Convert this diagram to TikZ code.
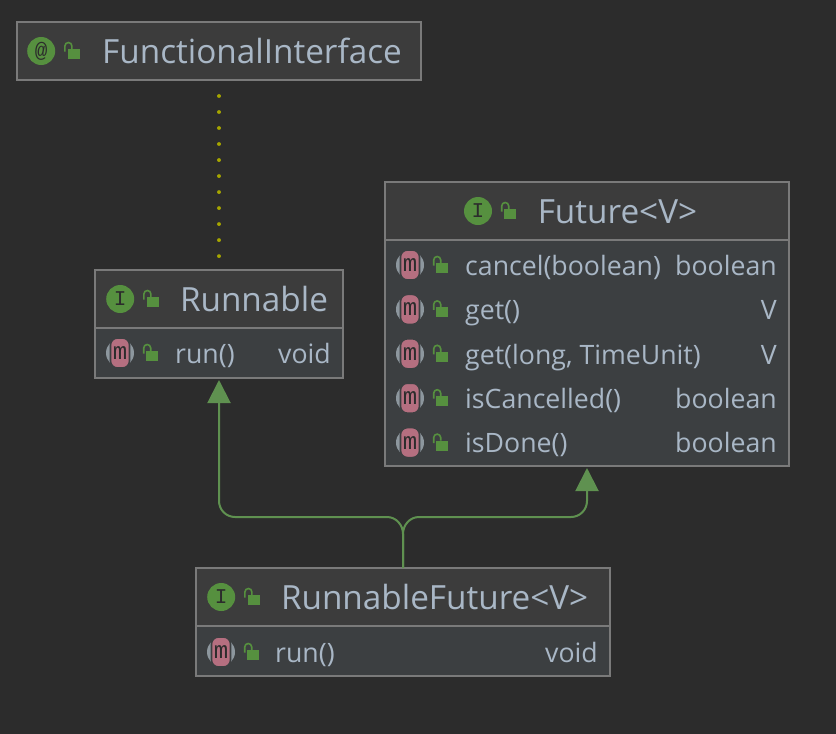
\documentclass[tikz,border=0pt]{standalone}
\usepackage{fontspec}
\setmainfont{Open Sans}
\newfontfamily\iconfont{Liberation Mono}
\usetikzlibrary{arrows.meta, positioning}
\definecolor{canvasgray}{HTML}{2C2C2C}
\definecolor{headgray}{HTML}{3C3C3C}
\definecolor{bodygray}{HTML}{3C3F41}
\definecolor{edgegray}{HTML}{7A7A7A}
\definecolor{labelblue}{HTML}{A9B7C6}
\definecolor{leafgreen}{HTML}{56903F}
\definecolor{linegreen}{HTML}{5F9150}
\definecolor{methodpink}{HTML}{B56F80}
\definecolor{ringgray}{HTML}{8D979E}
\definecolor{dotolive}{HTML}{A6A600}
\tikzstyle{head} = [rectangle, draw=edgegray, line width=2pt, fill=headgray, minimum height=58pt, inner sep=0pt, outer sep=0pt]
\tikzstyle{bodybox} = [rectangle, draw=edgegray, line width=2pt, fill=bodygray, inner sep=0pt, outer sep=0pt, below=0pt of #1]
\tikzstyle{title} = [text=labelblue, font=\fontsize{33.3}{33.3}\selectfont, inner sep=0pt, text height=32pt, text depth=6.6pt]
\tikzstyle{member} = [text=labelblue, font=\fontsize{26.7}{26.7}\selectfont, inner sep=0pt, text height=26pt, text depth=5.6pt]
\tikzstyle{kind} = [member, anchor=east, xshift=-12pt]
\tikzstyle{typeicon} = [circle, fill=leafgreen, minimum size=28pt, inner sep=0pt, text=canvasgray, font=\iconfont\fontsize{21}{21}\selectfont]
\tikzstyle{methodicon} = [circle, fill=ringgray, minimum size=28pt, inner sep=0pt, label={[rectangle, rounded corners=7pt, draw=bodygray, line width=1.6pt, fill=methodpink, minimum width=19pt, minimum height=30pt, inner sep=0pt, text=canvasgray, font=\iconfont\fontsize{24}{24}\selectfont]center:m}]
\tikzstyle{lock} = [rectangle, fill=leafgreen, minimum width=12pt, minimum height=10pt, inner sep=0pt, append after command={\pgfextra{\let\locknode\tikzlastnode \draw [leafgreen, line width=1.6pt] ([xshift=-2.5pt,yshift=2.5pt]\locknode.west) -- ++(0,-5.5) arc (180:0:3.5pt) -- ++(0,3);}}]
\tikzstyle{dots} = [dotolive, line width=3.8pt, line cap=round, dash pattern=on 0.01pt off 16pt, shorten <=16pt, shorten >=8pt]
\tikzstyle{extends} = [linegreen, line width=2pt, -{Triangle[length=23pt,width=23pt]}, shorten >=2pt]

\begin{document}
\begin{tikzpicture}[x=1pt, y=-1pt]
\fill [canvasgray] (0,0) rectangle (836,734);

% FunctionalInterface
\node (fihead) [head, minimum width=404pt] at (219,51) {};
\node (fiicon) [typeicon, right=10pt of fihead.west] {@};
\node (filock) [lock, right=12pt of fiicon, yshift=-3pt] {};
\node (fititle) [title, anchor=west] at (102,51) {FunctionalInterface};

% Runnable
\node (rhead) [head, minimum width=248pt] at (219,299) {};
\node (rbody) [bodybox=rhead.south, minimum width=248pt, minimum height=50pt] {};
\node (ricon) [typeicon, right=11pt of rhead.west] {I};
\node (rlock) [lock, right=12pt of ricon, yshift=-3pt] {};
\node (rtitle) [title, right=21pt of rlock, yshift=3pt] {Runnable};
\node (rrunicon) [methodicon] at (120,353) {};
\node (rrunlock) [lock, right=12pt of rrunicon, yshift=-3pt] {};
\node (rruntext) [member, anchor=west] at (175,353) {run()};
\node (rruntype) [kind] at (rbody.east |- rrunicon) {void};

% Future
\node (fhead) [head, minimum width=404pt] at (587,211) {};
\node (fbody) [bodybox=fhead.south, minimum width=404pt, minimum height=226pt] {};
\node (ficon) [typeicon] at (478,211) {I};
\node (flock) [lock, right=12pt of ficon, yshift=-3pt] {};
\node (ftitle) [title, right=21pt of flock, yshift=3pt] {Future<V>};
\node (cancelicon) [methodicon] at (410,265) {};
\node (geticon) [methodicon, below=16pt of cancelicon] {};
\node (timedicon) [methodicon, below=16pt of geticon] {};
\node (cancelledicon) [methodicon, below=16pt of timedicon] {};
\node (doneicon) [methodicon, below=16pt of cancelledicon] {};
\node (cancellock) [lock, right=12pt of cancelicon, yshift=-3pt] {};
\node (getlock) [lock, right=12pt of geticon, yshift=-3pt] {};
\node (timedlock) [lock, right=12pt of timedicon, yshift=-3pt] {};
\node (cancelledlock) [lock, right=12pt of cancelledicon, yshift=-3pt] {};
\node (donelock) [lock, right=12pt of doneicon, yshift=-3pt] {};
\node (canceltext) [member, anchor=west] at (465,265) {cancel(boolean)};
\node (gettext) [member, anchor=west] at (canceltext.west |- geticon) {get()};
\node (timedtext) [member, anchor=west] at (canceltext.west |- timedicon) {get(long, TimeUnit)};
\node (cancelledtext) [member, anchor=west] at (canceltext.west |- cancelledicon) {isCancelled()};
\node (donetext) [member, anchor=west] at (canceltext.west |- doneicon) {isDone()};
\node (canceltype) [kind] at (fbody.east |- cancelicon) {boolean};
\node (gettype) [kind] at (fbody.east |- geticon) {V};
\node (timedtype) [kind] at (fbody.east |- timedicon) {V};
\node (cancelledtype) [kind] at (fbody.east |- cancelledicon) {boolean};
\node (donetype) [kind] at (fbody.east |- doneicon) {boolean};

% RunnableFuture
\node (rfhead) [head, minimum width=414pt] at (403,597) {};
\node (rfbody) [bodybox=rfhead.south, minimum width=414pt, minimum height=50pt] {};
\node (rficon) [typeicon, right=11pt of rfhead.west] {I};
\node (rflock) [lock, right=12pt of rficon, yshift=-3pt] {};
\node (rftitle) [title, right=21pt of rflock, yshift=3pt] {RunnableFuture<V>};
\node (rfrunicon) [methodicon] at (221,652) {};
\node (rfrunlock) [lock, right=12pt of rfrunicon, yshift=-3pt] {};
\node (rfruntext) [member, anchor=west] at (275,652) {run()};
\node (rfruntype) [kind] at (rfbody.east |- rfrunicon) {void};

\coordinate (split) at (403,534);
\coordinate (leftbend) at (387,517);
\coordinate (rightbend) at (419,517);

\draw [dots] (fihead.south) -- (rhead.north);
\draw [extends] (rfhead.north) -- (split) to[out=90, in=0] (leftbend) [rounded corners=16pt] -| (rbody.south);
\draw [extends] (rfhead.north) -- (split) to[out=90, in=180] (rightbend) [rounded corners=16pt] -| (fbody.south);
\end{tikzpicture}
\end{document}
